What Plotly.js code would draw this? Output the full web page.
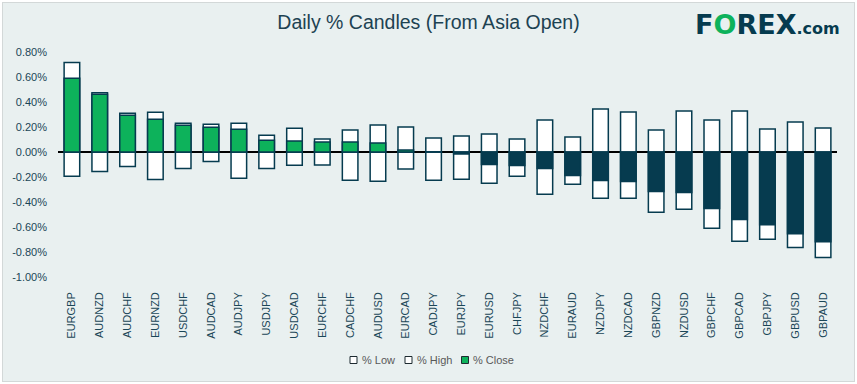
<!DOCTYPE html>
<html>
<head>
<meta charset="utf-8">
<script src="https://cdn.plot.ly/plotly-3.0.1.min.js"></script>
<style>
  html, body { margin: 0; padding: 0; background: #ffffff; }
  #wrap { position: absolute; left: 2px; top: 2px; width: 851px; height: 378px;
          border: 1px solid #d3d8d8; background: #e9f0f0; }
  #chart { width: 851px; height: 378px; }
</style>
</head>
<body>
<div id="wrap"><div id="chart"></div></div>
<script>
const pairs = ["EURGBP","AUDNZD","AUDCHF","EURNZD","USDCHF","AUDCAD","AUDJPY","USDJPY","USDCAD","EURCHF",
               "CADCHF","AUDUSD","EURCAD","CADJPY","EURJPY","EURUSD","CHFJPY","NZDCHF","EURAUD","NZDJPY",
               "NZDCAD","GBPNZD","NZDUSD","GBPCHF","GBPCAD","GBPJPY","GBPUSD","GBPAUD"];
const pctHigh  = [0.717,0.474,0.310,0.318,0.230,0.222,0.230,0.134,0.191,0.104,
                  0.177,0.217,0.201,0.112,0.128,0.144,0.104,0.257,0.120,0.345,
                  0.321,0.177,0.329,0.257,0.329,0.185,0.241,0.193];
const pctLow   = [-0.193,-0.155,-0.115,-0.219,-0.131,-0.075,-0.209,-0.131,-0.105,-0.104,
                  -0.225,-0.233,-0.136,-0.225,-0.217,-0.249,-0.193,-0.337,-0.257,-0.369,
                  -0.369,-0.482,-0.458,-0.610,-0.714,-0.698,-0.763,-0.843];
const pctClose = [0.591,0.463,0.294,0.262,0.214,0.198,0.182,0.094,0.088,0.080,
                  0.080,0.072,0.016,0.002,-0.016,-0.099,-0.107,-0.131,-0.187,-0.227,
                  -0.235,-0.316,-0.324,-0.452,-0.540,-0.581,-0.653,-0.717];
const yTickVals = [-1.0,-0.8,-0.6,-0.4,-0.2,0.0,0.2,0.4,0.6,0.8];
const yTickText = ["-1.00%","-0.80%","-0.60%","-0.40%","-0.20%","0.00%","0.20%","0.40%","0.60%","0.80%"];
const legendNames = ["% Low", "% High", "% Close"];

const NAVY = "#063b4f";
const GREEN = "#0db25b";
const closeColors = pctClose.map(v => v >= 0 ? GREEN : NAVY);

const outline = {color: NAVY, width: 1.5};
const traces = [
  {type: "bar", name: legendNames[0], x: pairs, y: pctLow, width: 0.56,
   marker: {color: "#ffffff", line: outline}, hoverinfo: "x+y"},
  {type: "bar", name: legendNames[1], x: pairs, y: pctHigh, width: 0.56,
   marker: {color: "#ffffff", line: outline}, hoverinfo: "x+y"},
  {type: "bar", name: legendNames[2], x: pairs, y: pctClose, width: 0.56,
   marker: {color: closeColors, line: outline}, hoverinfo: "x+y"}
];

// plot area in pixels (inside the chart div): left 55, width 779, top 49, height 225
const PW = 779, PH = 225;
const px = v => (v - 55) / PW;          // div x -> paper x
const py = v => (274 - v) / PH;         // div y -> paper y

// custom compact legend (boxes + labels), positions relative to chart div
const legendBoxes = [
  {x0: 347, fill: "#ffffff"},
  {x0: 402, fill: "#ffffff"},
  {x0: 458.5, fill: GREEN}
];
const legendShapes = legendBoxes.map(b => ({
  type: "rect", xref: "paper", yref: "paper",
  x0: px(b.x0), x1: px(b.x0 + 7), y0: py(360.5), y1: py(353.5),
  fillcolor: b.fill, line: {color: "#1d2a30", width: 1}
}));
const legendLabels = legendNames.map((t, i) => ({
  xref: "paper", yref: "paper", x: px(legendBoxes[i].x0 + 10), y: py(356.5),
  xanchor: "left", yanchor: "middle", showarrow: false, text: t,
  font: {family: "Liberation Sans, Arial, sans-serif", size: 11, color: "#595959"}
}));

const layout = {
  width: 851, height: 378,
  paper_bgcolor: "rgba(0,0,0,0)", plot_bgcolor: "rgba(0,0,0,0)",
  margin: {l: 55, r: 17, t: 49, b: 104},
  barmode: "overlay",
  font: {family: "Liberation Sans, Arial, sans-serif", color: "#1d4252"},
  title: {text: "Daily % Candles (From Asia Open)", x: 0.5, xref: "container",
          y: 0.95, yref: "container", yanchor: "middle",
          font: {size: 19.5, color: "#1d4252", family: "Liberation Sans, Arial, sans-serif"}},
  xaxis: {type: "category", range: [-0.5, pairs.length - 0.5], tickangle: -90,
          showgrid: false, zeroline: false, showline: false, ticks: "",
          ticklabelstandoff: 12,
          tickfont: {size: 11, color: "#1a4657"}},
  yaxis: {range: [-1.0, 0.8], tickvals: yTickVals, ticktext: yTickText,
          showgrid: false, zeroline: true, zerolinecolor: "#000000", zerolinewidth: 1.5,
          showline: false, ticks: "", ticklabelstandoff: 10,
          tickfont: {size: 11, color: "#1a4657"}},
  showlegend: false,
  shapes: legendShapes,
  annotations: legendLabels.concat([
    {xref: "paper", yref: "paper", x: px(690), y: py(22), xanchor: "left", yanchor: "middle",
     showarrow: false,
     text: "<b>F<span style='color:" + GREEN + "'>O</span>REX</b><b><span style='font-size:16px'>.com</span></b>",
     font: {family: "DejaVu Sans, sans-serif", size: 27, color: NAVY}}
  ])
};

Plotly.newPlot("chart", traces, layout, {displayModeBar: false, staticPlot: true});
</script>
</body>
</html>
